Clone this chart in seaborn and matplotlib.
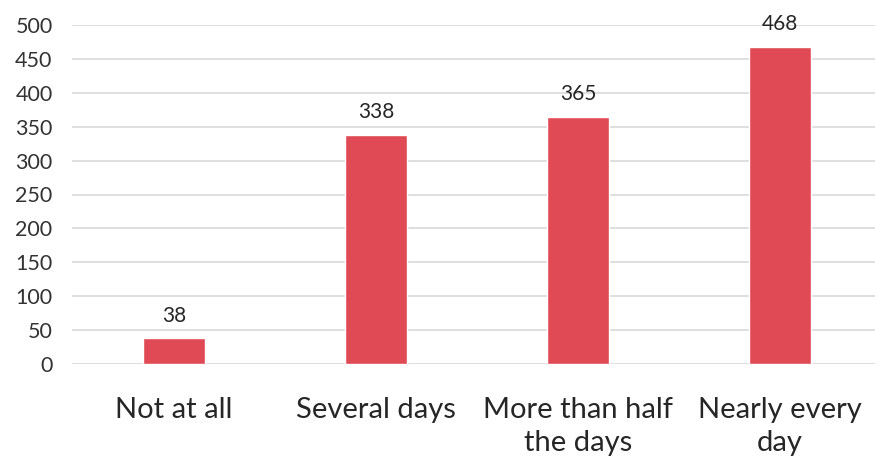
"""bar chart of how often respondents reported the symptom"""

import matplotlib
matplotlib.use("Agg")
import matplotlib.pyplot as plt
import pandas as pd
import seaborn as sns

categories = ["Not at all", "Several days", "More than half\nthe days", "Nearly every\nday"]
counts = [38, 338, 365, 468]
y_ticks = [0, 50, 100, 150, 200, 250, 300, 350, 400, 450, 500]

df = pd.DataFrame({"answer": categories, "count": counts})

sns.set_theme(style="white")
plt.rcParams["font.family"] = ["Lato", "DejaVu Sans"]

fig = plt.figure(figsize=(8.75, 4.63), dpi=100)
ax = fig.add_axes([72 / 875, 1 - 364 / 463, 1 - 72 / 875, (364 - 25) / 463])

sns.barplot(data=df, x="answer", y="count", color="#E04A55", saturation=1,
            width=0.31, ax=ax, zorder=3)

ax.set_ylim(0, 500)
ax.set_xlim(-0.505, 3.47)
ax.set_yticks(y_ticks)
ax.set_yticklabels([str(t) for t in y_ticks])
ax.yaxis.grid(True, color="#D9D9D9", linewidth=1.2, zorder=0)
ax.set_axisbelow(True)
for s in ax.spines.values():
    s.set_visible(False)

ax.tick_params(axis="y", length=0, pad=14, labelsize=15.5, labelcolor="#333333")
ax.tick_params(axis="x", length=0, pad=24, labelsize=21, labelcolor="#262626")
for lbl in ax.get_yticklabels():
    lbl.set_horizontalalignment("right")
for lbl in ax.get_xticklabels():
    lbl.set_linespacing(1.3)
ax.set_xlabel("")
ax.set_ylabel("")

for i, v in enumerate(counts):
    ax.annotate(str(v), (i, v), xytext=(0, 9), textcoords="offset points",
                ha="center", va="bottom", fontsize=15, color="#262626")

fig.savefig("out.png", dpi=100)
